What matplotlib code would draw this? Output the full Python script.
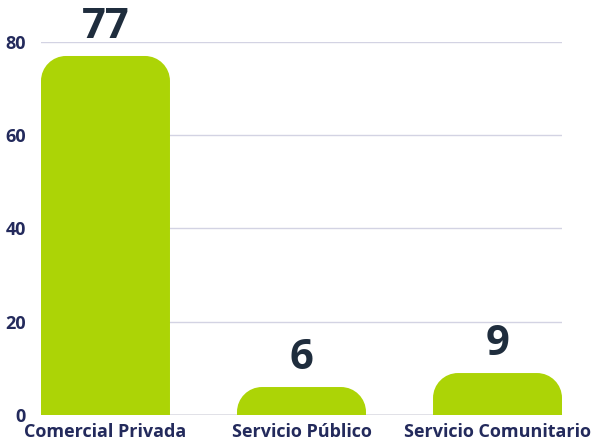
import matplotlib
matplotlib.use("Agg")
import matplotlib.pyplot as plt
from matplotlib.path import Path
from matplotlib.patches import PathPatch

categories = ["Comercial Privada", "Servicio Público", "Servicio Comunitario"]
values = [77, 6, 9]
yticks = [0, 20, 40, 60, 80]

plt.rcParams['font.family'] = ['Open Sans', 'DejaVu Sans']

W, H, DPI = 592, 445, 100
fig = plt.figure(figsize=(W / DPI, H / DPI), dpi=DPI)
left, right, bottom, top = 41, 562, 415, 42
ax = fig.add_axes([left / W, 1 - bottom / H, (right - left) / W, (bottom - top) / H])

xlim = (-0.329, 2.329)
ax.set_xlim(*xlim)
ax.set_ylim(0, 80)

bar_color = "#acd406"
bars = ax.bar(range(len(values)), values, width=0.658, color="none", edgecolor="none")

px_x = (right - left) / (xlim[1] - xlim[0])
px_y = (bottom - top) / 80.0
r_px = 25
k = 0.5523
for b in bars:
    x0 = b.get_x(); w = b.get_width(); h = b.get_height()
    rx = min(r_px / px_x, w / 2)
    ry = min(r_px / px_y, h)
    x1 = x0 + w
    verts = [
        (x0, 0), (x0, h - ry),
        (x0, h - ry + k * ry), (x0 + rx - k * rx, h), (x0 + rx, h),
        (x1 - rx, h),
        (x1 - rx + k * rx, h), (x1, h - ry + k * ry), (x1, h - ry),
        (x1, 0), (x0, 0),
    ]
    codes = [Path.MOVETO, Path.LINETO,
             Path.CURVE4, Path.CURVE4, Path.CURVE4,
             Path.LINETO,
             Path.CURVE4, Path.CURVE4, Path.CURVE4,
             Path.LINETO, Path.CLOSEPOLY]
    ax.add_patch(PathPatch(Path(verts, codes), facecolor=bar_color, edgecolor="none", zorder=3))
    ax.annotate(f"{int(h)}", (x0 + w / 2, h), xytext=(0, 13), textcoords="offset points",
                ha="center", va="baseline", fontsize=30, fontweight="bold",
                color="#1f2d3d", annotation_clip=False, zorder=4)

ax.set_yticks(yticks)
ax.set_xticks(range(len(categories)))
ax.set_xticklabels(categories)
for s in ax.spines.values():
    s.set_visible(False)
ax.grid(axis="y", color="#d3d3e3", linewidth=1, zorder=0)
ax.axhline(0, color="#8c8ca0", linewidth=1, zorder=2)
ax.tick_params(axis="both", length=0, colors="#232a5c", labelsize=13)
ax.tick_params(axis="y", pad=11)
ax.tick_params(axis="x", pad=6)
for lab in ax.get_xticklabels() + ax.get_yticklabels():
    lab.set_fontweight("bold")

fig.savefig("out.png", dpi=DPI)
